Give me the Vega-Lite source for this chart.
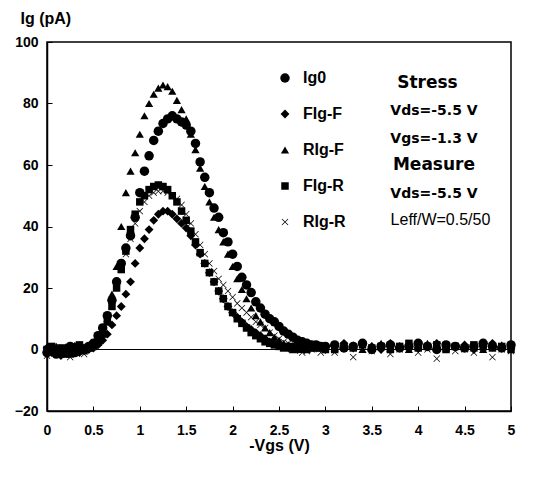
{
"$schema":"https://vega.github.io/schema/vega-lite/v6.json",
"width":464,"height":369,
"autosize":"none",
"padding":{"left":47,"top":42,"right":24,"bottom":71},
"background":"white",
"config":{"view":{"stroke":"black","strokeWidth":1.5},"font":"Liberation Sans",
 "axis":{"grid":false,"domainColor":"black","domainWidth":1.5,"tickColor":"black","tickSize":-5,"tickWidth":1,"labelColor":"black","labelFontSize":14,"labelFontWeight":"bold","titleColor":"black","titleFontSize":16,"titleFontWeight":"bold","labelFlush":false,"labelOverlap":false}},
"layer":[
{"data":{"values":[{"y":0}]},"mark":{"type":"rule","color":"black","strokeWidth":1},"encoding":{"y":{"field":"y","type":"quantitative","scale":{"domain":[-20,100],"nice":false}}}},
{"data":{"values":[
{"s":"Ig0","x":0,"y":-1},{"s":"Ig0","x":0.05,"y":0.5},{"s":"Ig0","x":0.1,"y":-1.5},{"s":"Ig0","x":0.15,"y":0},{"s":"Ig0","x":0.2,"y":-0.5},{"s":"Ig0","x":0.25,"y":1},{"s":"Ig0","x":0.3,"y":-1},{"s":"Ig0","x":0.35,"y":0.5},{"s":"Ig0","x":0.4,"y":0},{"s":"Ig0","x":0.45,"y":1},
{"s":"Ig0","x":0.5,"y":2},{"s":"Ig0","x":0.55,"y":4.5},{"s":"Ig0","x":0.6,"y":7},{"s":"Ig0","x":0.65,"y":11},{"s":"Ig0","x":0.7,"y":16},{"s":"Ig0","x":0.75,"y":22},{"s":"Ig0","x":0.8,"y":28},{"s":"Ig0","x":0.85,"y":33},{"s":"Ig0","x":0.9,"y":37},{"s":"Ig0","x":0.95,"y":43},
{"s":"Ig0","x":1,"y":51},{"s":"Ig0","x":1.05,"y":58},{"s":"Ig0","x":1.1,"y":63},{"s":"Ig0","x":1.15,"y":68},{"s":"Ig0","x":1.2,"y":71},{"s":"Ig0","x":1.25,"y":73.5},{"s":"Ig0","x":1.3,"y":75},{"s":"Ig0","x":1.35,"y":76},{"s":"Ig0","x":1.4,"y":75},{"s":"Ig0","x":1.45,"y":74},
{"s":"Ig0","x":1.5,"y":73},{"s":"Ig0","x":1.55,"y":71},{"s":"Ig0","x":1.6,"y":67},{"s":"Ig0","x":1.65,"y":61},{"s":"Ig0","x":1.7,"y":56},{"s":"Ig0","x":1.75,"y":51},{"s":"Ig0","x":1.8,"y":46},{"s":"Ig0","x":1.85,"y":43},{"s":"Ig0","x":1.9,"y":38},{"s":"Ig0","x":1.95,"y":35},
{"s":"Ig0","x":2,"y":31},{"s":"Ig0","x":2.05,"y":27},{"s":"Ig0","x":2.1,"y":23.5},{"s":"Ig0","x":2.15,"y":21},{"s":"Ig0","x":2.2,"y":18.5},{"s":"Ig0","x":2.25,"y":15.5},{"s":"Ig0","x":2.3,"y":13.5},{"s":"Ig0","x":2.35,"y":11.5},{"s":"Ig0","x":2.4,"y":10},{"s":"Ig0","x":2.45,"y":9},
{"s":"Ig0","x":2.5,"y":7.5},{"s":"Ig0","x":2.55,"y":6},{"s":"Ig0","x":2.6,"y":5},{"s":"Ig0","x":2.65,"y":4},{"s":"Ig0","x":2.7,"y":3},{"s":"Ig0","x":2.75,"y":2.5},{"s":"Ig0","x":2.8,"y":2},{"s":"Ig0","x":2.85,"y":1.5},{"s":"Ig0","x":2.9,"y":1.5},{"s":"Ig0","x":2.95,"y":1},{"s":"Ig0","x":3,"y":1},
{"s":"Ig0","x":3.1,"y":1.5},{"s":"Ig0","x":3.2,"y":0.5},{"s":"Ig0","x":3.3,"y":1},{"s":"Ig0","x":3.4,"y":2},{"s":"Ig0","x":3.5,"y":0},{"s":"Ig0","x":3.6,"y":1},{"s":"Ig0","x":3.7,"y":1.5},{"s":"Ig0","x":3.8,"y":0.5},{"s":"Ig0","x":3.9,"y":1},{"s":"Ig0","x":4,"y":2},
{"s":"Ig0","x":4.1,"y":1},{"s":"Ig0","x":4.2,"y":0},{"s":"Ig0","x":4.3,"y":1.5},{"s":"Ig0","x":4.4,"y":1},{"s":"Ig0","x":4.5,"y":0.5},{"s":"Ig0","x":4.6,"y":1},{"s":"Ig0","x":4.7,"y":2},{"s":"Ig0","x":4.8,"y":1},{"s":"Ig0","x":4.9,"y":0.5},{"s":"Ig0","x":5,"y":1.5},

{"s":"FIg-F","x":0,"y":0.5},{"s":"FIg-F","x":0.05,"y":-1},{"s":"FIg-F","x":0.1,"y":0},{"s":"FIg-F","x":0.15,"y":-2},{"s":"FIg-F","x":0.2,"y":0.5},{"s":"FIg-F","x":0.25,"y":-0.5},{"s":"FIg-F","x":0.3,"y":1},{"s":"FIg-F","x":0.35,"y":-1},{"s":"FIg-F","x":0.4,"y":0.5},{"s":"FIg-F","x":0.45,"y":0},
{"s":"FIg-F","x":0.5,"y":0.5},{"s":"FIg-F","x":0.55,"y":1.5},{"s":"FIg-F","x":0.6,"y":3},{"s":"FIg-F","x":0.65,"y":5},{"s":"FIg-F","x":0.7,"y":8},{"s":"FIg-F","x":0.75,"y":11},{"s":"FIg-F","x":0.8,"y":14},{"s":"FIg-F","x":0.85,"y":18},{"s":"FIg-F","x":0.9,"y":22},{"s":"FIg-F","x":0.95,"y":28},
{"s":"FIg-F","x":1,"y":33},{"s":"FIg-F","x":1.05,"y":36},{"s":"FIg-F","x":1.1,"y":39},{"s":"FIg-F","x":1.15,"y":42},{"s":"FIg-F","x":1.2,"y":44},{"s":"FIg-F","x":1.25,"y":45},{"s":"FIg-F","x":1.3,"y":45},{"s":"FIg-F","x":1.35,"y":44},{"s":"FIg-F","x":1.4,"y":42.5},{"s":"FIg-F","x":1.45,"y":41},
{"s":"FIg-F","x":1.5,"y":39.5},{"s":"FIg-F","x":1.55,"y":37},{"s":"FIg-F","x":1.6,"y":34},{"s":"FIg-F","x":1.65,"y":31},{"s":"FIg-F","x":1.7,"y":28},{"s":"FIg-F","x":1.75,"y":25},{"s":"FIg-F","x":1.8,"y":22},{"s":"FIg-F","x":1.85,"y":19},{"s":"FIg-F","x":1.9,"y":16.5},{"s":"FIg-F","x":1.95,"y":14},
{"s":"FIg-F","x":2,"y":12},{"s":"FIg-F","x":2.05,"y":10.5},{"s":"FIg-F","x":2.1,"y":9},{"s":"FIg-F","x":2.15,"y":7.5},{"s":"FIg-F","x":2.2,"y":6.5},{"s":"FIg-F","x":2.25,"y":5.5},{"s":"FIg-F","x":2.3,"y":4.5},{"s":"FIg-F","x":2.35,"y":3.5},{"s":"FIg-F","x":2.4,"y":2.5},{"s":"FIg-F","x":2.45,"y":2},
{"s":"FIg-F","x":2.5,"y":1.5},{"s":"FIg-F","x":2.55,"y":1},{"s":"FIg-F","x":2.6,"y":0.5},{"s":"FIg-F","x":2.65,"y":1},{"s":"FIg-F","x":2.7,"y":0},{"s":"FIg-F","x":2.75,"y":1},{"s":"FIg-F","x":2.8,"y":0.5},{"s":"FIg-F","x":2.85,"y":1.5},{"s":"FIg-F","x":2.9,"y":0.5},{"s":"FIg-F","x":2.95,"y":1},{"s":"FIg-F","x":3,"y":0},
{"s":"FIg-F","x":3.1,"y":1},{"s":"FIg-F","x":3.2,"y":2},{"s":"FIg-F","x":3.3,"y":0.5},{"s":"FIg-F","x":3.4,"y":1.5},{"s":"FIg-F","x":3.5,"y":1},{"s":"FIg-F","x":3.6,"y":0},{"s":"FIg-F","x":3.7,"y":2},{"s":"FIg-F","x":3.8,"y":1},{"s":"FIg-F","x":3.9,"y":1.5},{"s":"FIg-F","x":4,"y":0.5},
{"s":"FIg-F","x":4.1,"y":1},{"s":"FIg-F","x":4.2,"y":2},{"s":"FIg-F","x":4.3,"y":0.5},{"s":"FIg-F","x":4.4,"y":1},{"s":"FIg-F","x":4.5,"y":1.5},{"s":"FIg-F","x":4.6,"y":0},{"s":"FIg-F","x":4.7,"y":1},{"s":"FIg-F","x":4.8,"y":2},{"s":"FIg-F","x":4.9,"y":1},{"s":"FIg-F","x":5,"y":0.5},

{"s":"RIg-F","x":0,"y":-0.5},{"s":"RIg-F","x":0.05,"y":0},{"s":"RIg-F","x":0.1,"y":1},{"s":"RIg-F","x":0.15,"y":-1},{"s":"RIg-F","x":0.2,"y":0.5},{"s":"RIg-F","x":0.25,"y":-1.5},{"s":"RIg-F","x":0.3,"y":0},{"s":"RIg-F","x":0.35,"y":1},{"s":"RIg-F","x":0.4,"y":-0.5},{"s":"RIg-F","x":0.45,"y":0.5},
{"s":"RIg-F","x":0.5,"y":1},{"s":"RIg-F","x":0.55,"y":3},{"s":"RIg-F","x":0.6,"y":6},{"s":"RIg-F","x":0.65,"y":10},{"s":"RIg-F","x":0.7,"y":18},{"s":"RIg-F","x":0.75,"y":27},{"s":"RIg-F","x":0.8,"y":40},{"s":"RIg-F","x":0.85,"y":51},{"s":"RIg-F","x":0.9,"y":58},{"s":"RIg-F","x":0.95,"y":64},
{"s":"RIg-F","x":1,"y":70},{"s":"RIg-F","x":1.05,"y":76},{"s":"RIg-F","x":1.1,"y":80},{"s":"RIg-F","x":1.15,"y":83},{"s":"RIg-F","x":1.2,"y":85},{"s":"RIg-F","x":1.25,"y":86},{"s":"RIg-F","x":1.3,"y":85.5},{"s":"RIg-F","x":1.35,"y":84},{"s":"RIg-F","x":1.4,"y":81},{"s":"RIg-F","x":1.45,"y":78},
{"s":"RIg-F","x":1.5,"y":75},{"s":"RIg-F","x":1.55,"y":70},{"s":"RIg-F","x":1.6,"y":65},{"s":"RIg-F","x":1.65,"y":59},{"s":"RIg-F","x":1.7,"y":53},{"s":"RIg-F","x":1.75,"y":48},{"s":"RIg-F","x":1.8,"y":43},{"s":"RIg-F","x":1.85,"y":39},{"s":"RIg-F","x":1.9,"y":35},{"s":"RIg-F","x":1.95,"y":31},
{"s":"RIg-F","x":2,"y":27},{"s":"RIg-F","x":2.05,"y":23},{"s":"RIg-F","x":2.1,"y":19.5},{"s":"RIg-F","x":2.15,"y":16.5},{"s":"RIg-F","x":2.2,"y":13.5},{"s":"RIg-F","x":2.25,"y":11},{"s":"RIg-F","x":2.3,"y":9},{"s":"RIg-F","x":2.35,"y":7},{"s":"RIg-F","x":2.4,"y":5.5},{"s":"RIg-F","x":2.45,"y":4},
{"s":"RIg-F","x":2.5,"y":3},{"s":"RIg-F","x":2.55,"y":2},{"s":"RIg-F","x":2.6,"y":1.5},{"s":"RIg-F","x":2.65,"y":1},{"s":"RIg-F","x":2.7,"y":0.5},{"s":"RIg-F","x":2.75,"y":0},{"s":"RIg-F","x":2.8,"y":1},{"s":"RIg-F","x":2.85,"y":0.5},{"s":"RIg-F","x":2.9,"y":1.5},{"s":"RIg-F","x":2.95,"y":0.5},{"s":"RIg-F","x":3,"y":1},
{"s":"RIg-F","x":3.1,"y":0.5},{"s":"RIg-F","x":3.2,"y":1},{"s":"RIg-F","x":3.3,"y":1.5},{"s":"RIg-F","x":3.4,"y":0},{"s":"RIg-F","x":3.5,"y":1},{"s":"RIg-F","x":3.6,"y":2},{"s":"RIg-F","x":3.7,"y":0.5},{"s":"RIg-F","x":3.8,"y":1},{"s":"RIg-F","x":3.9,"y":0},{"s":"RIg-F","x":4,"y":1.5},
{"s":"RIg-F","x":4.1,"y":2},{"s":"RIg-F","x":4.2,"y":1},{"s":"RIg-F","x":4.3,"y":0.5},{"s":"RIg-F","x":4.4,"y":1},{"s":"RIg-F","x":4.5,"y":1.5},{"s":"RIg-F","x":4.6,"y":0.5},{"s":"RIg-F","x":4.7,"y":0},{"s":"RIg-F","x":4.8,"y":1},{"s":"RIg-F","x":4.9,"y":1.5},{"s":"RIg-F","x":5,"y":1},

{"s":"FIg-R","x":0,"y":0},{"s":"FIg-R","x":0.05,"y":1},{"s":"FIg-R","x":0.1,"y":-1},{"s":"FIg-R","x":0.15,"y":0.5},{"s":"FIg-R","x":0.2,"y":-1.5},{"s":"FIg-R","x":0.25,"y":0},{"s":"FIg-R","x":0.3,"y":-0.5},{"s":"FIg-R","x":0.35,"y":1.5},{"s":"FIg-R","x":0.4,"y":0},{"s":"FIg-R","x":0.45,"y":0.5},
{"s":"FIg-R","x":0.5,"y":1},{"s":"FIg-R","x":0.55,"y":2.5},{"s":"FIg-R","x":0.6,"y":5},{"s":"FIg-R","x":0.65,"y":9},{"s":"FIg-R","x":0.7,"y":14},{"s":"FIg-R","x":0.75,"y":20},{"s":"FIg-R","x":0.8,"y":26},{"s":"FIg-R","x":0.85,"y":32},{"s":"FIg-R","x":0.9,"y":39},{"s":"FIg-R","x":0.95,"y":44},
{"s":"FIg-R","x":1,"y":48},{"s":"FIg-R","x":1.05,"y":50},{"s":"FIg-R","x":1.1,"y":52},{"s":"FIg-R","x":1.15,"y":53},{"s":"FIg-R","x":1.2,"y":53.5},{"s":"FIg-R","x":1.25,"y":53},{"s":"FIg-R","x":1.3,"y":52},{"s":"FIg-R","x":1.35,"y":50},{"s":"FIg-R","x":1.4,"y":48},{"s":"FIg-R","x":1.45,"y":45},
{"s":"FIg-R","x":1.5,"y":42},{"s":"FIg-R","x":1.55,"y":38.5},{"s":"FIg-R","x":1.6,"y":35},{"s":"FIg-R","x":1.65,"y":31.5},{"s":"FIg-R","x":1.7,"y":28},{"s":"FIg-R","x":1.75,"y":25},{"s":"FIg-R","x":1.8,"y":22},{"s":"FIg-R","x":1.85,"y":19},{"s":"FIg-R","x":1.9,"y":16.5},{"s":"FIg-R","x":1.95,"y":14},
{"s":"FIg-R","x":2,"y":12},{"s":"FIg-R","x":2.05,"y":10},{"s":"FIg-R","x":2.1,"y":8.5},{"s":"FIg-R","x":2.15,"y":7},{"s":"FIg-R","x":2.2,"y":5.5},{"s":"FIg-R","x":2.25,"y":4.5},{"s":"FIg-R","x":2.3,"y":3.5},{"s":"FIg-R","x":2.35,"y":2.5},{"s":"FIg-R","x":2.4,"y":2},{"s":"FIg-R","x":2.45,"y":1.5},
{"s":"FIg-R","x":2.5,"y":1},{"s":"FIg-R","x":2.55,"y":0.5},{"s":"FIg-R","x":2.6,"y":1},{"s":"FIg-R","x":2.65,"y":0},{"s":"FIg-R","x":2.7,"y":0.5},{"s":"FIg-R","x":2.75,"y":1},{"s":"FIg-R","x":2.8,"y":0},{"s":"FIg-R","x":2.85,"y":0.5},{"s":"FIg-R","x":2.9,"y":1},{"s":"FIg-R","x":2.95,"y":0.5},{"s":"FIg-R","x":3,"y":0},
{"s":"FIg-R","x":3.1,"y":0},{"s":"FIg-R","x":3.2,"y":1},{"s":"FIg-R","x":3.3,"y":0.5},{"s":"FIg-R","x":3.4,"y":1.5},{"s":"FIg-R","x":3.5,"y":0.5},{"s":"FIg-R","x":3.6,"y":1},{"s":"FIg-R","x":3.7,"y":0},{"s":"FIg-R","x":3.8,"y":1},{"s":"FIg-R","x":3.9,"y":2},{"s":"FIg-R","x":4,"y":0.5},
{"s":"FIg-R","x":4.1,"y":1},{"s":"FIg-R","x":4.2,"y":1.5},{"s":"FIg-R","x":4.3,"y":0},{"s":"FIg-R","x":4.4,"y":1},{"s":"FIg-R","x":4.5,"y":0.5},{"s":"FIg-R","x":4.6,"y":1.5},{"s":"FIg-R","x":4.7,"y":1},{"s":"FIg-R","x":4.8,"y":0.5},{"s":"FIg-R","x":4.9,"y":1},{"s":"FIg-R","x":5,"y":0},

{"s":"RIg-R","x":0,"y":-2},{"s":"RIg-R","x":0.05,"y":-0.5},{"s":"RIg-R","x":0.1,"y":0.5},{"s":"RIg-R","x":0.15,"y":-1},{"s":"RIg-R","x":0.2,"y":0},{"s":"RIg-R","x":0.25,"y":-2.5},{"s":"RIg-R","x":0.3,"y":-1},{"s":"RIg-R","x":0.35,"y":0},{"s":"RIg-R","x":0.4,"y":-1.5},{"s":"RIg-R","x":0.45,"y":0.5},
{"s":"RIg-R","x":0.5,"y":1},{"s":"RIg-R","x":0.55,"y":3},{"s":"RIg-R","x":0.6,"y":6},{"s":"RIg-R","x":0.65,"y":10},{"s":"RIg-R","x":0.7,"y":15},{"s":"RIg-R","x":0.75,"y":21},{"s":"RIg-R","x":0.8,"y":26},{"s":"RIg-R","x":0.85,"y":31},{"s":"RIg-R","x":0.9,"y":36},{"s":"RIg-R","x":0.95,"y":41},
{"s":"RIg-R","x":1,"y":45},{"s":"RIg-R","x":1.05,"y":48},{"s":"RIg-R","x":1.1,"y":50},{"s":"RIg-R","x":1.15,"y":51},{"s":"RIg-R","x":1.2,"y":51.5},{"s":"RIg-R","x":1.25,"y":51.5},{"s":"RIg-R","x":1.3,"y":51},{"s":"RIg-R","x":1.35,"y":50},{"s":"RIg-R","x":1.4,"y":49},{"s":"RIg-R","x":1.45,"y":47},
{"s":"RIg-R","x":1.5,"y":44},{"s":"RIg-R","x":1.55,"y":41},{"s":"RIg-R","x":1.6,"y":37.5},{"s":"RIg-R","x":1.65,"y":34},{"s":"RIg-R","x":1.7,"y":31},{"s":"RIg-R","x":1.75,"y":28},{"s":"RIg-R","x":1.8,"y":25.5},{"s":"RIg-R","x":1.85,"y":23},{"s":"RIg-R","x":1.9,"y":21},{"s":"RIg-R","x":1.95,"y":19},
{"s":"RIg-R","x":2,"y":17},{"s":"RIg-R","x":2.05,"y":15},{"s":"RIg-R","x":2.1,"y":13.5},{"s":"RIg-R","x":2.15,"y":12},{"s":"RIg-R","x":2.2,"y":10.5},{"s":"RIg-R","x":2.25,"y":9},{"s":"RIg-R","x":2.3,"y":8},{"s":"RIg-R","x":2.35,"y":7},{"s":"RIg-R","x":2.4,"y":5.5},{"s":"RIg-R","x":2.45,"y":4.5},
{"s":"RIg-R","x":2.5,"y":3.5},{"s":"RIg-R","x":2.55,"y":2.5},{"s":"RIg-R","x":2.6,"y":2},{"s":"RIg-R","x":2.65,"y":1},{"s":"RIg-R","x":2.7,"y":0.5},{"s":"RIg-R","x":2.75,"y":-1},{"s":"RIg-R","x":2.8,"y":-0.5},{"s":"RIg-R","x":2.85,"y":0},{"s":"RIg-R","x":2.9,"y":0.5},{"s":"RIg-R","x":2.95,"y":-1},{"s":"RIg-R","x":3,"y":0},
{"s":"RIg-R","x":3.1,"y":-1},{"s":"RIg-R","x":3.2,"y":0.5},{"s":"RIg-R","x":3.3,"y":-2.5},{"s":"RIg-R","x":3.4,"y":0},{"s":"RIg-R","x":3.5,"y":-0.5},{"s":"RIg-R","x":3.6,"y":1},{"s":"RIg-R","x":3.7,"y":-1.5},{"s":"RIg-R","x":3.8,"y":0},{"s":"RIg-R","x":3.9,"y":0.5},{"s":"RIg-R","x":4,"y":-1},
{"s":"RIg-R","x":4.1,"y":0},{"s":"RIg-R","x":4.2,"y":-3},{"s":"RIg-R","x":4.3,"y":0.5},{"s":"RIg-R","x":4.4,"y":-0.5},{"s":"RIg-R","x":4.5,"y":0},{"s":"RIg-R","x":4.6,"y":-1},{"s":"RIg-R","x":4.7,"y":0.5},{"s":"RIg-R","x":4.8,"y":-2.5},{"s":"RIg-R","x":4.9,"y":0},{"s":"RIg-R","x":5,"y":-0.5}
]},
"mark":{"type":"point","filled":true,"color":"black","opacity":1},
"encoding":{
 "x":{"field":"x","type":"quantitative","scale":{"domain":[0,5],"nice":false},"axis":{"title":"-Vgs (V)","values":[0,0.5,1,1.5,2,2.5,3,3.5,4,4.5,5],"format":"~g","labelPadding":17,"titleBaseline":"alphabetic","titleY":39}},
 "y":{"field":"y","type":"quantitative","scale":{"domain":[-20,100],"nice":false},"axis":{"title":"Ig (pA)","values":[-20,0,20,40,60,80,100],"labelPadding":14,"titleAngle":0,"titleAlign":"left","titleBaseline":"alphabetic","titleX":-27,"titleY":-19}},
 "shape":{"field":"s","type":"nominal","scale":{"domain":["Ig0","FIg-F","RIg-F","FIg-R","RIg-R"],"range":["circle","diamond","triangle-up","square","M-1,-0.85L-0.85,-1L0,-0.15L0.85,-1L1,-0.85L0.15,0L1,0.85L0.85,1L0,0.15L-0.85,1L-1,0.85L-0.15,0Z"]},"legend":{"title":null,"orient":"none","legendX":230,"legendY":28,"labelFontSize":16,"labelFontWeight":"bold","labelColor":"black","rowPadding":20,"symbolFillColor":"black","labelOffset":10}},
 "size":{"field":"s","type":"nominal","scale":{"domain":["Ig0","FIg-F","RIg-F","FIg-R","RIg-R"],"range":[90,45,85,40,60]},"legend":{"title":null,"orient":"none","legendX":230,"legendY":28,"labelFontSize":16,"labelFontWeight":"bold","labelColor":"black","rowPadding":20,"symbolFillColor":"black","labelOffset":10}}
}},
{"data":{"values":[{"x":4.1,"y":85,"t":"Stress"},{"x":4.17,"y":58.4,"t":"Measure"}]},
 "mark":{"type":"text","fontWeight":"bold","fontSize":17,"font":"DejaVu Sans","color":"black","baseline":"alphabetic","align":"center"},
 "encoding":{"x":{"field":"x","type":"quantitative"},"y":{"field":"y","type":"quantitative"},"text":{"field":"t"}}},
{"data":{"values":[{"x":4.17,"y":76.3,"t":"Vds=-5.5 V"},{"x":4.17,"y":67.2,"t":"Vgs=-1.3 V"},{"x":4.17,"y":49.3,"t":"Vds=-5.5 V"}]},
 "mark":{"type":"text","fontWeight":"bold","fontSize":14,"font":"DejaVu Sans","color":"black","baseline":"alphabetic","align":"center"},
 "encoding":{"x":{"field":"x","type":"quantitative"},"y":{"field":"y","type":"quantitative"},"text":{"field":"t"}}},
{"data":{"values":[{"x":4.24,"y":40.5,"t":"Leff/W=0.5/50"}]},
 "mark":{"type":"text","fontSize":16,"font":"Liberation Sans","color":"black","baseline":"alphabetic","align":"center"},
 "encoding":{"x":{"field":"x","type":"quantitative"},"y":{"field":"y","type":"quantitative"},"text":{"field":"t"}}}
]
}
